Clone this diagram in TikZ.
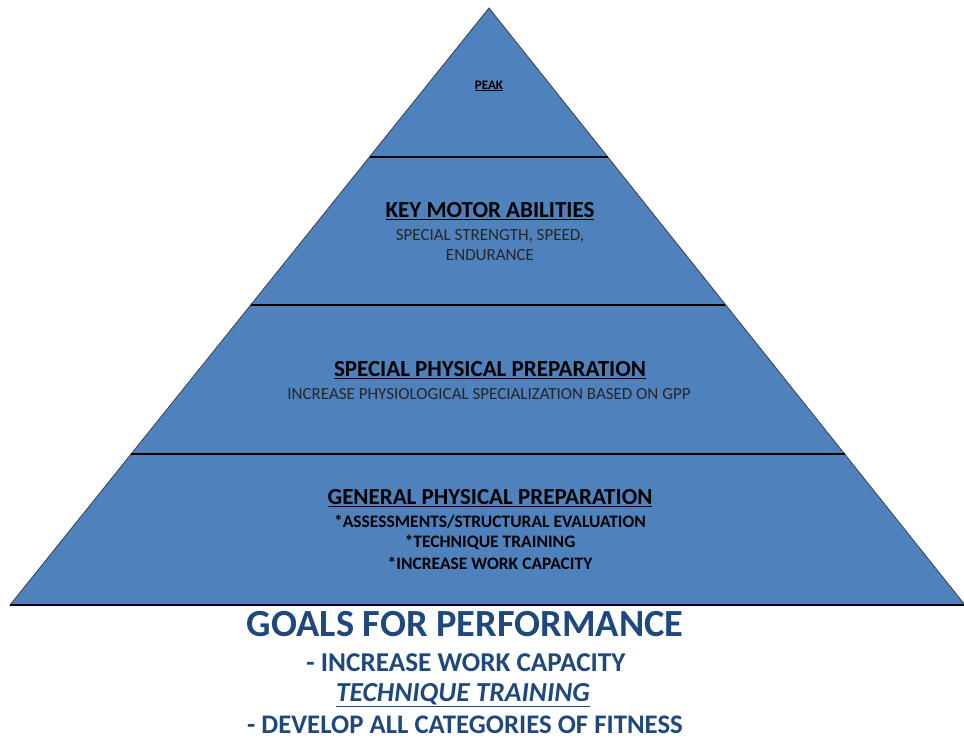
\documentclass[tikz,border=0pt]{standalone}
\usepackage{fontspec}
\setmainfont{Carlito}
\definecolor{pyrblue}{HTML}{4F81BD}
\definecolor{pyredge}{HTML}{3A3F4A}
\definecolor{goalblue}{HTML}{1F497D}
\begin{document}
\begin{tikzpicture}[x=1pt,y=-1pt,
  title/.style={font=\fontsize{23}{25}\selectfont\bfseries, text=black, inner sep=0},
  sub/.style={font=\fontsize{17}{19}\selectfont, text=black!85, inner sep=0},
  gsub/.style={font=\fontsize{17.5}{20}\selectfont\bfseries, text=black, inner sep=0},
  goal/.style={font=\fontsize{27.2}{33}\selectfont\bfseries, text=goalblue, inner sep=0},
  divider/.style={draw=black, line width=1.3pt}]
\useasboundingbox (0,0) rectangle (964,739);
\fill[white] (0,0) rectangle (964,739);
% pyramid
\coordinate (apex) at (489,8);
\coordinate (bl) at (10,605);
\coordinate (br) at (965,605);
\filldraw[fill=pyrblue, draw=pyredge, line width=0.8pt] (apex) -- (bl) -- (br) -- cycle;
% dividers
\draw[divider] (369.5,157) -- (607.5,157);
\draw[divider] (251,305) -- (725,305);
\draw[divider] (131,454) -- (845,454);
\draw[black, line width=1.6pt] (bl) -- (br);
% texts
\node[font=\fontsize{13}{14}\selectfont\bfseries, inner sep=0] (peak) at (489,86) {\underline{PEAK}};
\node[title] (kma) at (490,211) {\underline{KEY MOTOR ABILITIES}};
\node[sub] (kma1) at (490,236) {SPECIAL STRENGTH, SPEED,};
\node[sub] (kma2) at (490,255) {ENDURANCE};
\node[title] (spp) at (490,370) {\underline{SPECIAL PHYSICAL PREPARATION}};
\node[sub] (sppsub) at (489,394) {INCREASE PHYSIOLOGICAL SPECIALIZATION BASED ON GPP};
\node[title] (gpp) at (490,498) {\underline{GENERAL PHYSICAL PREPARATION}};
\node[gsub] (gpp1) at (490,522) {*ASSESSMENTS/STRUCTURAL EVALUATION};
\node[gsub] (gpp2) at (490,542) {*TECHNIQUE TRAINING};
\node[gsub] (gpp3) at (490,563) {*INCREASE WORK CAPACITY};
% goals
\node[goal, font=\fontsize{38.4}{40}\selectfont\bfseries] (goals) at (465,624) {GOALS FOR PERFORMANCE};
\node[goal] (g1) at (466,663) {- INCREASE WORK CAPACITY};
\node[goal, font=\fontsize{27.5}{33}\selectfont\bfseries\itshape] (g2) at (463,695) {\underline{TECHNIQUE TRAINING}};
\node[goal, font=\fontsize{26.8}{33}\selectfont\bfseries] (g3) at (465,725) {- DEVELOP ALL CATEGORIES OF FITNESS};
\end{tikzpicture}
\end{document}
